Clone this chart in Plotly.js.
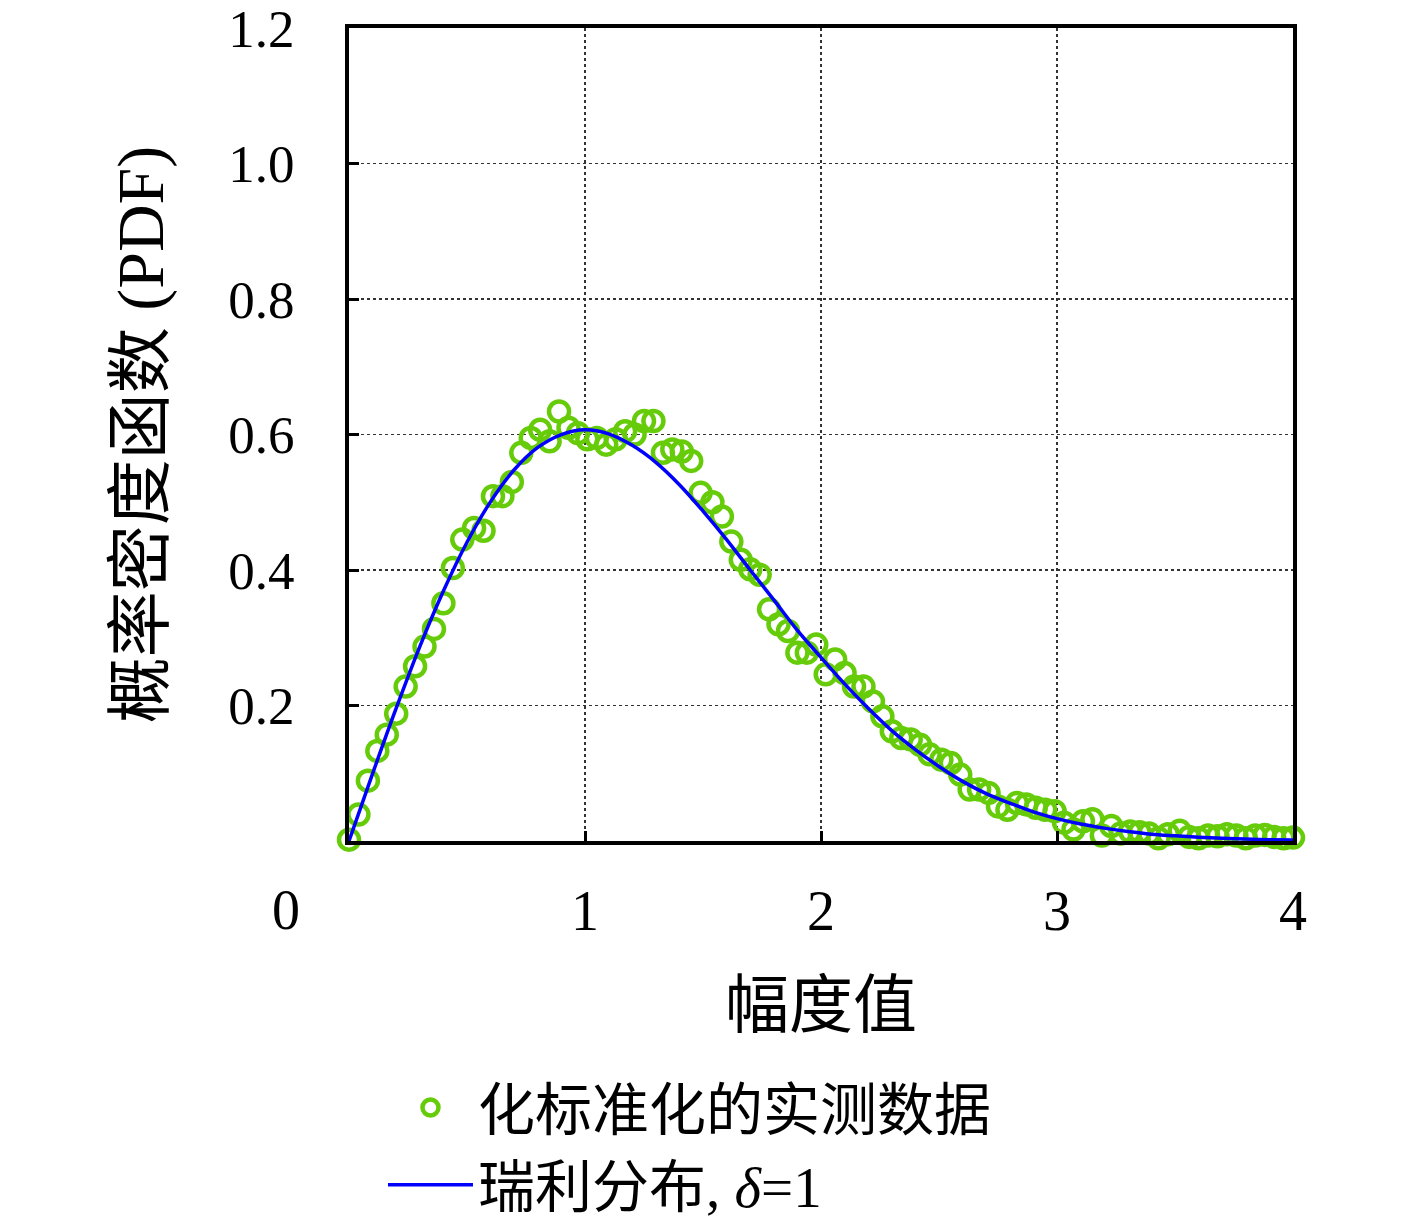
<!DOCTYPE html>
<html>
<head>
<meta charset="utf-8">
<script src="https://cdn.plot.ly/plotly-3.0.1.min.js"></script>
<style>
  html, body { margin: 0; padding: 0; background: #fff; }
  #chart { width: 1417px; height: 1219px; }
</style>
</head>
<body>
<div id="chart"></div>
<script>
// measured amplitude (normalised) and its estimated pdf
var amp = [0.00,0.04,0.08,0.12,0.16,0.20,0.24,0.28,0.32,0.36,
           0.40,0.44,0.48,0.53,0.57,0.61,0.65,0.69,0.73,0.77,
           0.81,0.85,0.89,0.93,0.97,1.01,1.05,1.09,1.13,1.17,
           1.21,1.25,1.29,1.33,1.37,1.41,1.45,1.49,1.54,1.58,
           1.62,1.66,1.70,1.74,1.78,1.82,1.86,1.90,1.94,1.98,
           2.02,2.06,2.10,2.14,2.18,2.22,2.26,2.30,2.34,2.38,
           2.42,2.46,2.51,2.55,2.59,2.63,2.67,2.71,2.75,2.79,
           2.83,2.87,2.91,2.95,2.99,3.03,3.07,3.11,3.15,3.19,
           3.23,3.27,3.31,3.35,3.39,3.43,3.47,3.52,3.56,3.60,
           3.64,3.68,3.72,3.76,3.80,3.84,3.88,3.92,3.96,4.00];
var pdfMeasured = [0.002,0.039,0.089,0.133,0.157,0.188,0.228,0.258,0.287,0.313,
                   0.351,0.403,0.445,0.462,0.458,0.509,0.509,0.530,0.573,0.595,
                   0.607,0.590,0.634,0.610,0.602,0.593,0.595,0.585,0.593,0.605,
                   0.600,0.620,0.620,0.573,0.578,0.575,0.561,0.514,0.500,0.479,
                   0.442,0.415,0.401,0.393,0.342,0.320,0.310,0.278,0.278,0.290,
                   0.246,0.268,0.248,0.228,0.228,0.206,0.184,0.162,0.152,0.150,
                   0.142,0.128,0.120,0.115,0.098,0.076,0.076,0.071,0.051,0.046,
                   0.056,0.054,0.049,0.046,0.044,0.027,0.017,0.029,0.032,0.008,
                   0.022,0.011,0.014,0.013,0.011,0.004,0.010,0.015,0.006,0.004,
                   0.008,0.007,0.010,0.008,0.004,0.008,0.009,0.006,0.004,0.005];

// Rayleigh curve, sigma = 1
var ampFit = [0.0,0.1,0.2,0.3,0.4,0.5,0.6,0.7,0.8,0.9,
              1.0,1.1,1.2,1.3,1.4,1.5,1.6,1.7,1.8,1.9,
              2.0,2.1,2.2,2.3,2.4,2.5,2.6,2.7,2.8,2.9,
              3.0,3.1,3.2,3.3,3.4,3.5,3.6,3.7,3.8,3.9,4.0];
var pdfFit = [0.0,0.0995,0.196,0.287,0.369,0.441,0.501,0.548,0.581,0.600,
              0.607,0.601,0.584,0.559,0.526,0.487,0.445,0.400,0.356,0.311,
              0.271,0.232,0.196,0.163,0.135,0.110,0.088,0.070,0.056,0.043,
              0.033,0.025,0.019,0.014,0.010,0.0076,0.0055,0.0040,0.0028,0.0020,0.0013];

var xTicks = [1, 2, 3, 4];
var yTicks = [0.2, 0.4, 0.6, 0.8, 1.0, 1.2];
var yTickText = ['0.2', '0.4', '0.6', '0.8', '1.0', '1.2'];

var fontFam = '"Liberation Serif", "Noto Sans CJK SC", serif';

var measured = {
  x: amp,
  y: pdfMeasured,
  type: 'scatter',
  mode: 'markers',
  name: '化标准化的实测数据',
  cliponaxis: false,
  marker: {symbol: 'circle-open', size: 20, color: '#66cc0a', line: {width: 4.5, color: '#66cc0a'}}
};

var rayleigh = {
  x: ampFit,
  y: pdfFit,
  type: 'scatter',
  mode: 'lines',
  name: '瑞利分布, <i>δ</i>=1',
  line: {color: '#0000ff', width: 3.5, shape: 'spline'}
};

var layout = {
  width: 1417,
  height: 1219,
  margin: {l: 349, r: 124, t: 28, b: 378},
  paper_bgcolor: '#fff',
  plot_bgcolor: '#fff',
  font: {family: fontFam, size: 50, color: '#000'},
  showlegend: true,
  legend: {
    x: 0.036, xref: 'paper',
    y: 1 - 1064 / 1219, yref: 'container',
    xanchor: 'left', yanchor: 'top',
    font: {family: fontFam, size: 57, color: '#000'},
    itemwidth: 85,
    tracegroupgap: 0,
    bgcolor: 'rgba(0,0,0,0)'
  },
  xaxis: {
    range: [0, 4],
    tickvals: xTicks,
    ticks: 'inside',
    ticklen: 10,
    tickwidth: 3,
    tickcolor: '#000',
    ticklabelstandoff: 18,
    showline: true,
    linewidth: 4,
    linecolor: '#000',
    mirror: true,
    showgrid: true,
    gridcolor: '#333',
    griddash: 'dot',
    gridwidth: 1.5,
    zeroline: false,
    automargin: false,
    tickfont: {size: 56},
    title: {text: '幅度值', font: {family: fontFam, size: 64}, standoff: 42}
  },
  yaxis: {
    range: [0, 1.2001],
    tickvals: yTicks,
    ticktext: yTickText,
    ticks: 'inside',
    ticklen: 10,
    tickwidth: 3,
    tickcolor: '#000',
    ticklabelstandoff: 40,
    ticklabeloverflow: 'allow',
    showline: true,
    linewidth: 4,
    linecolor: '#000',
    mirror: true,
    showgrid: true,
    gridcolor: '#333',
    griddash: 'dot',
    gridwidth: 1.5,
    zeroline: false,
    automargin: false,
    tickfont: {size: 53},
    title: {text: '概率密度函数 (PDF)', font: {family: fontFam, size: 66}, standoff: 44}
  },
  annotations: [{
    text: '0', xref: 'x', yref: 'paper', x: 0, y: 0,
    xanchor: 'center', yanchor: 'top', xshift: -63, yshift: -36,
    showarrow: false, font: {family: fontFam, size: 56}
  }]
};

Plotly.newPlot('chart', [measured, rayleigh], layout, {staticPlot: true});
</script>
</body>
</html>
